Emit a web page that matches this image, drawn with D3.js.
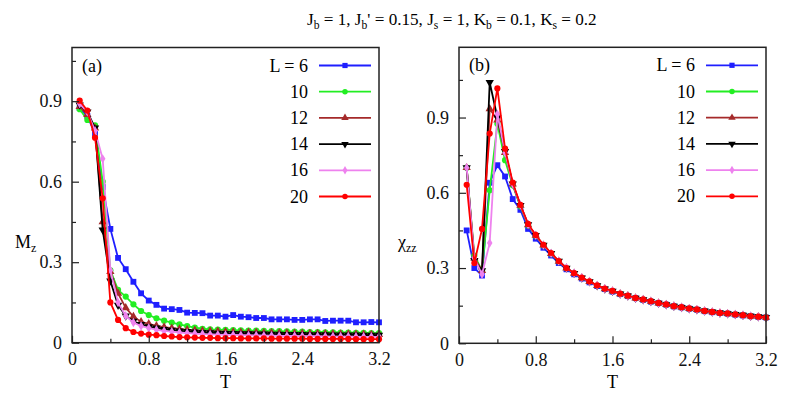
<!DOCTYPE html>
<meta charset="utf-8">
<style>
body { margin: 0; padding: 0; background: #fff; }
svg, svg text { font-family: "Liberation Serif", "Times New Roman", Times, "DejaVu Serif", serif !important; }
</style>
<svg width="798" height="399"></svg>
<script src="https://d3js.org/d3.v7.min.js"></script>
<script>

// temperatures, 0.08 .. 3.2
var temps = [0.08,0.16,0.24,0.32,0.40,0.48,0.56,0.64,0.72,0.80,0.88,0.96,1.04,1.12,1.20,1.28,
  1.36,1.44,1.52,1.60,1.68,1.76,1.84,1.92,2.00,2.08,2.16,2.24,2.32,2.40,2.48,2.56,
  2.64,2.72,2.80,2.88,2.96,3.04,3.12,3.20];

var sizes = ["L = 6", "10", "12", "14", "16", "20"];

// panel (a): Mz
var mz6  = [0.874,0.845,0.778,0.58,0.424,0.316,0.274,0.227,0.184,0.157,0.141,0.127,0.125,0.122,0.112,0.111,
  0.110,0.101,0.101,0.097,0.103,0.097,0.095,0.092,0.092,0.087,0.087,0.087,0.085,0.085,0.087,0.087,
  0.081,0.082,0.082,0.082,0.076,0.076,0.077,0.076];
var mz10 = [0.87,0.83,0.81,0.60,0.27,0.197,0.172,0.143,0.118,0.103,0.091,0.082,0.075,0.068,0.062,0.056,
  0.052,0.050,0.049,0.048,0.047,0.046,0.045,0.045,0.044,0.043,0.043,0.042,0.041,0.041,0.040,0.040,
  0.039,0.039,0.038,0.038,0.037,0.037,0.036,0.036];
var mz12 = [0.88,0.85,0.80,0.45,0.265,0.184,0.13,0.097,0.078,0.070,0.063,0.058,0.054,0.051,0.048,0.046,
  0.044,0.043,0.042,0.041,0.040,0.039,0.039,0.038,0.037,0.037,0.036,0.036,0.035,0.035,0.034,0.034,
  0.033,0.033,0.032,0.032,0.031,0.031,0.030,0.030];
var mz14 = [0.886,0.86,0.80,0.42,0.23,0.14,0.10,0.08,0.068,0.060,0.055,0.050,0.047,0.044,0.042,0.040,
  0.038,0.037,0.036,0.035,0.035,0.034,0.034,0.033,0.033,0.032,0.032,0.031,0.031,0.031,0.030,0.030,
  0.030,0.029,0.029,0.029,0.029,0.028,0.028,0.028];
var mz16 = [0.89,0.86,0.79,0.685,0.27,0.15,0.10,0.075,0.062,0.055,0.048,0.044,0.041,0.038,0.036,0.034,
  0.032,0.031,0.030,0.029,0.029,0.028,0.027,0.027,0.026,0.026,0.025,0.025,0.025,0.024,0.024,0.024,
  0.023,0.023,0.023,0.023,0.022,0.022,0.022,0.022];
var mz20 = [0.902,0.865,0.764,0.538,0.15,0.085,0.054,0.040,0.034,0.030,0.028,0.025,0.023,0.021,0.020,0.019,
  0.018,0.018,0.017,0.017,0.017,0.016,0.016,0.016,0.016,0.015,0.015,0.015,0.015,0.015,0.014,0.014,
  0.014,0.014,0.014,0.014,0.013,0.013,0.013,0.013];

// panel (b): chi_zz
var chi6  = [0.45,0.30,0.27,0.64,0.71,0.665,0.575,0.532,0.456,0.417,0.381,0.350,0.320,0.295,0.275,0.258,
  0.243,0.228,0.216,0.206,0.196,0.188,0.180,0.173,0.166,0.160,0.154,0.147,0.143,0.138,0.134,0.128,
  0.124,0.121,0.118,0.114,0.111,0.108,0.105,0.103];
var chi10 = [0.70,0.35,0.29,0.61,0.875,0.73,0.63,0.545,0.470,0.428,0.390,0.357,0.326,0.299,0.279,0.261,
  0.246,0.230,0.217,0.208,0.197,0.189,0.180,0.174,0.167,0.160,0.154,0.148,0.143,0.138,0.134,0.129,
  0.125,0.121,0.118,0.115,0.112,0.108,0.106,0.103];
var chi12 = [0.70,0.34,0.29,0.935,0.89,0.76,0.635,0.55,0.472,0.430,0.391,0.358,0.327,0.300,0.279,0.261,
  0.246,0.230,0.217,0.208,0.197,0.189,0.180,0.174,0.167,0.160,0.154,0.148,0.143,0.138,0.134,0.129,
  0.125,0.121,0.118,0.115,0.112,0.108,0.106,0.103];
var chi14 = [0.70,0.33,0.29,1.04,0.90,0.765,0.635,0.55,0.473,0.430,0.391,0.358,0.327,0.300,0.279,0.261,
  0.246,0.230,0.217,0.208,0.197,0.189,0.180,0.174,0.167,0.160,0.154,0.148,0.143,0.138,0.134,0.129,
  0.125,0.121,0.118,0.115,0.112,0.108,0.106,0.103];
var chi16 = [0.70,0.34,0.275,0.40,0.913,0.76,0.635,0.55,0.473,0.430,0.391,0.358,0.327,0.300,0.279,0.261,
  0.246,0.230,0.217,0.208,0.197,0.189,0.180,0.174,0.167,0.160,0.154,0.148,0.143,0.138,0.134,0.129,
  0.125,0.121,0.118,0.115,0.112,0.108,0.106,0.103];
var chi20 = [0.632,0.32,0.456,0.836,1.016,0.776,0.641,0.552,0.476,0.432,0.393,0.360,0.328,0.300,0.280,0.262,
  0.247,0.231,0.218,0.209,0.198,0.190,0.181,0.175,0.168,0.161,0.155,0.148,0.144,0.139,0.135,0.129,
  0.125,0.121,0.119,0.115,0.112,0.108,0.106,0.103];

var xMajor = [0, 0.8, 1.6, 2.4, 3.2],
    xMinor = [0.4, 1.2, 2.0, 2.8],
    yMajor = [0, 0.3, 0.6, 0.9],
    yMinor = [0.15, 0.45, 0.75, 1.05];

var colors = ["#1f1fff", "#22ee22", "#a52a2a", "#000000", "#ee82ee", "#ff0000"];
var symbols = [d3.symbolSquare, d3.symbolCircle, d3.symbolTriangle, d3.symbolTriangle, d3.symbolDiamond, d3.symbolCircle];
var symSize = [34, 30, 30, 30, 26, 30];
var symRot = [0, 0, 0, 180, 0, 0];

var svg = d3.select("svg");

// title with subscripts, sized to the span of the original (x 307..597)
var title = svg.append("text")
    .attr("x", 307).attr("y", 25)
    .attr("font-size", 18);
[["J", "b"], [" = 1, J", "b"], ["' = 0.15, J", "s"], [" = 1, K", "b"], [" = 0.1, K", "s"], [" = 0.2", ""]]
  .forEach(function(p, i) {
    title.append("tspan").attr("dy", i ? "0.25em" : 0).text(p[0]);
    if (p[1]) title.append("tspan").attr("font-size", "0.68em").attr("dy", "0.37em").text(p[1]);
  });
var tw = title.node().getBBox().width;
if (tw > 0) title.attr("font-size", Math.min(20, 18 * 290 / tw));
// restore baseline after each subscript
title.selectAll("tspan").filter(function(d, i) { return i > 0 && i % 2 === 0; }).attr("dy", "-0.25em");

function panel(p) {
  var x = d3.scaleLinear().domain([0, 3.2]).range([p.left, p.right]);
  var y = d3.scaleLinear().domain([0, p.ymax]).range([p.bottom, p.top]);
  var g = svg.append("g");

  // series
  p.series.forEach(function(vals, k) {
    var pts = temps.map(function(t, i) { return [t, vals[i]]; });
    g.append("path")
      .datum(pts)
      .attr("fill", "none")
      .attr("stroke", colors[k])
      .attr("stroke-width", 1.8)
      .attr("d", d3.line().x(function(d) { return x(d[0]); }).y(function(d) { return y(d[1]); }));
    g.selectAll(null)
      .data(pts)
      .enter().append("path")
      .attr("transform", function(d) { return "translate(" + x(d[0]) + "," + y(d[1]) + ") rotate(" + symRot[k] + ")"; })
      .attr("d", d3.symbol().type(symbols[k]).size(symSize[k]))
      .attr("fill", colors[k]);
  });

  // frame
  g.append("rect")
    .attr("x", p.left).attr("y", p.top)
    .attr("width", p.right - p.left).attr("height", p.bottom - p.top)
    .attr("fill", "none").attr("stroke", "#222").attr("stroke-width", 1.5);

  // axes, ticks inside
  g.append("g").attr("transform", "translate(0," + p.bottom + ")")
    .call(d3.axisBottom(x).tickValues(xMajor).tickSizeInner(-7).tickSizeOuter(0).tickPadding(10)
      .tickFormat(function(d) { return d === 0 ? "0" : d3.format(".1f")(d); }));
  g.append("g").attr("transform", "translate(0," + p.bottom + ")")
    .call(d3.axisBottom(x).tickValues(xMinor).tickSizeInner(-4).tickSizeOuter(0).tickFormat(""));
  g.append("g").attr("transform", "translate(" + p.left + ",0)")
    .call(d3.axisLeft(y).tickValues(yMajor).tickSizeInner(-7).tickSizeOuter(0).tickPadding(10)
      .tickFormat(function(d) { return d === 0 ? "0" : d3.format(".1f")(d); }));
  g.append("g").attr("transform", "translate(" + p.left + ",0)")
    .call(d3.axisLeft(y).tickValues(yMinor).tickSizeInner(-4).tickSizeOuter(0).tickFormat(""));
  g.selectAll(".domain").remove();
  g.selectAll(".tick line").attr("stroke", "#222").attr("stroke-width", 1.2);
  g.selectAll(".tick text").attr("font-size", 18).attr("fill", "#111");

  // panel tag
  g.append("text").attr("x", p.left + 10).attr("y", p.top + 24)
    .attr("font-size", 18).text(p.tag);

  // axis labels
  g.append("text").attr("x", (p.left + p.right) / 2).attr("y", 388)
    .attr("text-anchor", "middle").attr("font-size", 18).text("T");
  var yl = g.append("text").attr("x", p.left - p.ylabOff).attr("y", 248).attr("font-size", 18);
  yl.append("tspan").text(p.ylab[0]);
  yl.append("tspan").attr("font-size", 12).attr("dy", 4).text(p.ylab[1]);

  // legend
  sizes.forEach(function(s, k) {
    var ly = p.top + 18 + k * 26.2;
    var lx = p.right - 71;
    g.append("text").attr("x", lx).attr("y", ly + 6)
      .attr("text-anchor", "end").attr("font-size", 18).text(s);
    g.append("line").attr("x1", lx + 11).attr("x2", lx + 63)
      .attr("y1", ly).attr("y2", ly)
      .attr("stroke", colors[k]).attr("stroke-width", 1.8);
    g.append("path")
      .attr("transform", "translate(" + (lx + 37) + "," + ly + ") rotate(" + symRot[k] + ")")
      .attr("d", d3.symbol().type(symbols[k]).size(symSize[k] * 0.8))
      .attr("fill", colors[k]);
  });
}

panel({left: 72, right: 379, top: 47.5, bottom: 342.7, ymax: 1.1, tag: "(a)", ylabOff: 57,
  ylab: ["M", "z"], series: [mz6, mz10, mz12, mz14, mz16, mz20]});
panel({left: 459, right: 766, top: 47.3, bottom: 343.3, ymax: 1.18, tag: "(b)", ylabOff: 61,
  ylab: ["\u03c7", "zz"], series: [chi6, chi10, chi12, chi14, chi16, chi20]});

</script>
